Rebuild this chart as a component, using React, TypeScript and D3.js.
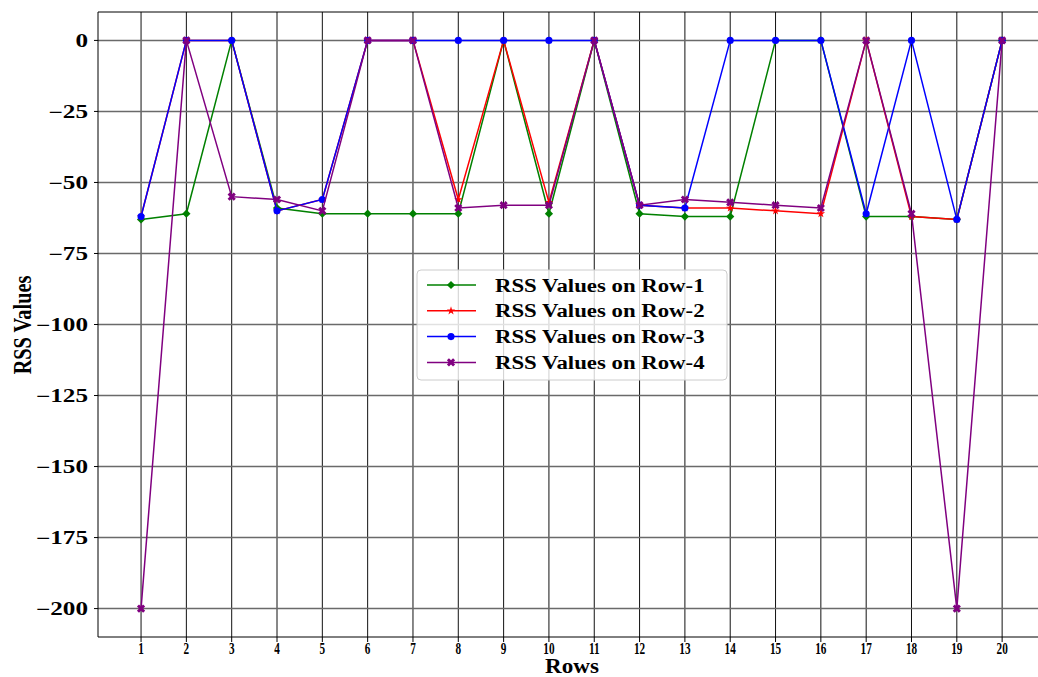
import React from 'react';
import * as d3 from 'd3';

const rows = [1, 2, 3, 4, 5, 6, 7, 8, 9, 10, 11, 12, 13, 14, 15, 16, 17, 18, 19, 20];
const row1 = [-63, -61, 0, -59, -61, -61, -61, -61, 0, -61, 0, -61, -62, -62, 0, 0, -62, -62, -63, 0];
const row2 = [-62, 0, 0, -60, -56, 0, 0, -56, 0, -57, 0, -58, -59, -59, -60, -61, 0, -62, -63, 0];
const row3 = [-62, 0, 0, -60, -56, 0, 0, 0, 0, 0, 0, -58, -59, 0, 0, 0, -61, 0, -63, 0];
const row4 = [-200, 0, -55, -56, -60, 0, 0, -59, -58, -58, 0, -58, -56, -57, -58, -59, 0, -61, -200, 0];
const yTicks = [0, -25, -50, -75, -100, -125, -150, -175, -200];

const series = [
  { name: 'RSS Values on Row-1', values: row1, color: 'green', marker: 'diamond' },
  { name: 'RSS Values on Row-2', values: row2, color: 'red', marker: 'star' },
  { name: 'RSS Values on Row-3', values: row3, color: 'blue', marker: 'circle' },
  { name: 'RSS Values on Row-4', values: row4, color: 'purple', marker: 'x' },
];

const W = 1038;
const H = 677;
const left = 98;
const top = 12;
const bottom = 637;
const font = '"Liberation Serif", "Times New Roman", serif';

function markerPath(kind: string) {
  if (kind === 'diamond') return d3.symbol(d3.symbolSquare, 34)();
  if (kind === 'star') return d3.symbol(d3.symbolStar, 22)();
  if (kind === 'circle') return d3.symbol(d3.symbolCircle, 40)();
  return d3.symbol(d3.symbolCross, 42)();
}
function markerRot(kind: string) {
  return kind === 'diamond' || kind === 'x' ? 45 : 0;
}

export default function App() {
  const x = d3.scaleLinear().domain([0.05, 20.95]).range([left, left + 20.9 * 45.32]);
  const y = d3.scaleLinear().domain([-210, 10]).range([bottom, top]);
  const line = d3
    .line<number>()
    .x((_, i) => x(rows[i]))
    .y((d) => y(d));

  const legX = 417;
  const legY = 270;

  return (
    <svg
      width={W}
      height={H}
      style={{ position: 'absolute', left: 0, top: 0, background: '#fff' }}
    >
      <defs>
        <clipPath id="plot">
          <rect x={left} y={top} width={W - left} height={bottom - top} />
        </clipPath>
      </defs>
      {/* grid */}
      <g>
        {rows.map((r) => (
          <line key={r} x1={x(r)} x2={x(r)} y1={top} y2={bottom} stroke="#111" strokeWidth={1} />
        ))}
        {yTicks.map((t) => (
          <line key={t} x1={left} x2={W} y1={y(t)} y2={y(t)} stroke="#6a6a6a" strokeWidth={1.5} />
        ))}
      </g>
      {/* series */}
      <g clipPath="url(#plot)">
        {series.map((s) => (
          <g key={s.name}>
            <path d={line(s.values) || ''} fill="none" stroke={s.color} strokeWidth={1.5} />
            {s.values.map((v, i) => (
              <path
                key={i}
                d={markerPath(s.marker) || ''}
                transform={`translate(${x(rows[i])},${y(v)}) rotate(${markerRot(s.marker)})`}
                fill={s.color}
              />
            ))}
          </g>
        ))}
      </g>
      {/* spines */}
      <line x1={left} x2={left} y1={top} y2={bottom} stroke="#000" strokeWidth={1} />
      <line x1={left} x2={W} y1={bottom} y2={bottom} stroke="#000" strokeWidth={1} />
      <line x1={left} x2={W} y1={top} y2={top} stroke="#000" strokeWidth={1} />
      {/* y ticks */}
      {yTicks.map((t) => (
        <g key={t}>
          <line x1={left - 4} x2={left} y1={y(t)} y2={y(t)} stroke="#000" />
          <text
            transform={`translate(88,${y(t) + 6.5}) scale(1.4,1)`}
            textAnchor="end"
            fontFamily={font}
            fontWeight="bold"
            fontSize={18}
          >
            {t < 0 ? '\u2212' + Math.abs(t) : t}
          </text>
        </g>
      ))}
      {/* x ticks */}
      {rows.map((r) => (
        <g key={r}>
          <line x1={x(r)} x2={x(r)} y1={bottom} y2={bottom + 5} stroke="#000" />
          <text
            transform={`translate(${x(r)},654) scale(0.66,1)`}
            textAnchor="middle"
            fontFamily={font}
            fontWeight="bold"
            fontSize={17}
          >
            {r}
          </text>
        </g>
      ))}
      <text
        transform="translate(572,673) scale(1.1,1)"
        textAnchor="middle"
        fontFamily={font}
        fontWeight="bold"
        fontSize={21}
      >
        Rows
      </text>
      <text
        transform="translate(31,325) rotate(-90) scale(0.78,1)"
        textAnchor="middle"
        fontFamily={font}
        fontWeight="bold"
        fontSize={26}
      >
        RSS Values
      </text>
      {/* legend */}
      <g transform={`translate(${legX},${legY})`}>
        <rect
          x={0}
          y={0}
          width={310}
          height={110}
          rx={4}
          fill="#fff"
          fillOpacity={0.8}
          stroke="#ccc"
          strokeWidth={1}
        />
        {series.map((s, i) => {
          const cy = 15 + i * 25.8;
          return (
            <g key={s.name}>
              <line x1={10} x2={59} y1={cy} y2={cy} stroke={s.color} strokeWidth={1.5} />
              <path
                d={markerPath(s.marker) || ''}
                transform={`translate(34,${cy}) rotate(${markerRot(s.marker)})`}
                fill={s.color}
              />
              <text
                transform={`translate(78,${cy + 6.5}) scale(1.2,1)`}
                fontFamily={font}
                fontWeight="bold"
                fontSize={19}
              >
                {s.name}
              </text>
            </g>
          );
        })}
      </g>
    </svg>
  );
}
